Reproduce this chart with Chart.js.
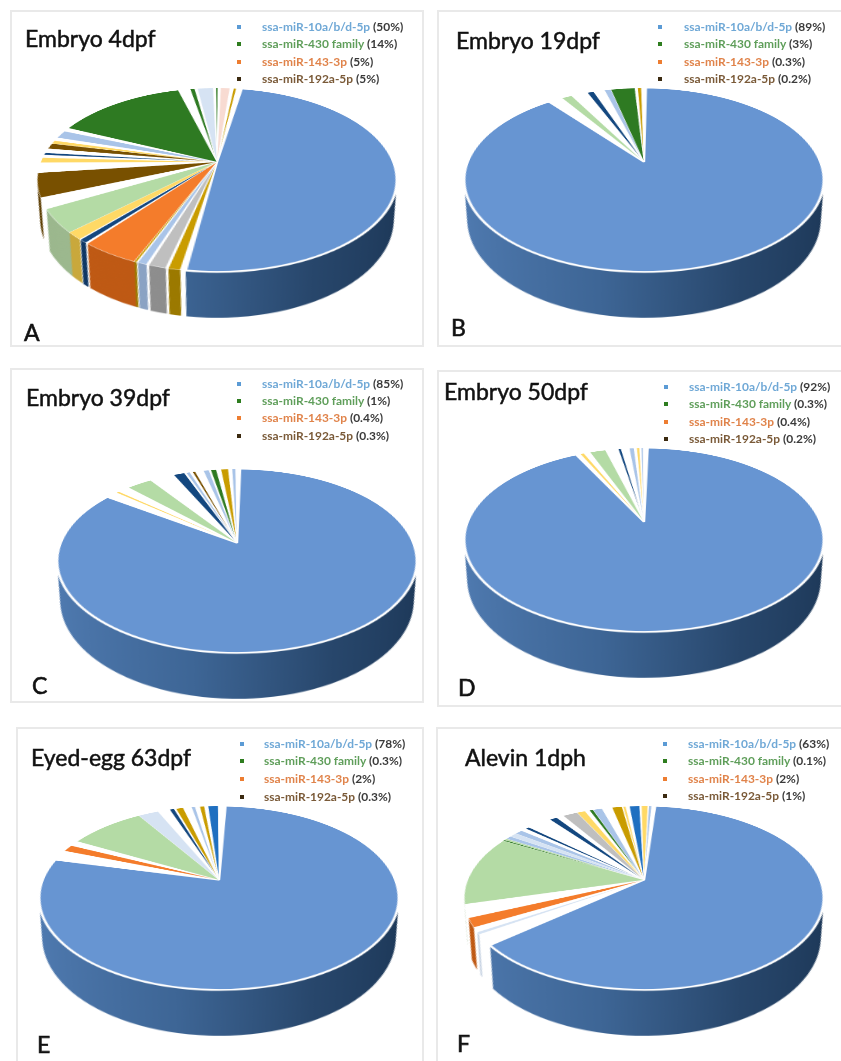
<!DOCTYPE html>
<html>
<head>
<meta charset="utf-8">
<title>miRNA pies</title>
<script src="https://cdn.jsdelivr.net/npm/chart.js@4/dist/chart.umd.min.js"></script>
<style>
  html, body { margin: 0; width: 841px; height: 1061px; overflow: hidden; background: #fff; font-family: Lato, sans-serif; }
  #stage { position: relative; width: 841px; height: 1061px; overflow: hidden; filter: blur(.35px); }
  .frame { position: absolute; box-sizing: border-box; border: 2px solid #e9e9e9; }
  canvas.pie { position: absolute; transform: perspective(780px) rotateX(59.9deg); transform-origin: 50% 50%; }
  .title, .letter, .row, .mark { position: absolute; white-space: nowrap; }
  .title { font-size: 23px; line-height: 28px; color: #111; -webkit-text-stroke: .5px #111; }
  .letter { font-size: 23px; line-height: 26px; color: #111; -webkit-text-stroke: .6px #111; }
  .row { font-size: 11.95px; line-height: 14px; font-weight: 700; color: #3a3a3a; }
  .mark { width: 4px; height: 4px; }
</style>
</head>
<body>
<div id="stage"></div>
<script>
// ── Legend ────────────────────────────────────────────────
const miRNAs = ['ssa-miR-10a/b/d-5p', 'ssa-miR-430 family', 'ssa-miR-143-3p', 'ssa-miR-192a-5p'];
const shareA = ['50%', '14%', '5%', '5%'];
const shareB = ['89%', '3%', '0.3%', '0.2%'];
const shareC = ['85%', '1%', '0.4%', '0.3%'];
const shareD = ['92%', '0.3%', '0.4%', '0.2%'];
const shareE = ['78%', '0.3%', '2%', '0.3%'];
const shareF = ['63%', '0.1%', '2%', '1%'];

// ── Slices, clockwise from the big one (%) ──
const valuesA = [49.6, .4, .9, .2, 1.3, .2, .7, .1, .2, 4.4, .2, .6, .1, 1.3, 4.1, 1.9, 4.2, 1.8, .9, .5, .4, .8, 1, .6, .6, 1.4, .7, 14, 1.3, .5, .3, 1.7, .3, .2, .3, 1, .4, .3, .6];
const kindsA = ['blue', 'white', 'gold', 'white', 'grey', 'white', 'pale', 'white', 'gold', 'orange', 'white', 'navy', 'white', 'butter', 'mint', 'white', 'brown', 'white', 'butter', 'white', 'navy', 'white', 'brown', 'butter', 'white', 'pale', 'white', 'green', 'white', 'green', 'white', 'mist', 'white', 'green', 'white', 'pink', 'white', 'gold', 'white'];

const valuesB = [89, 1.6, 1.1, 1.8, .7, 1.2, .7, 2.6, .3, .4, .5];
const kindsB = ['blue', 'white', 'mint', 'white', 'navy', 'white', 'pale', 'green', 'white', 'gold', 'white'];

const valuesC = [84.4, 1.3, .3, 1.3, 2.7, 2.7, 1.2, .2, .4, .3, .3, .9, .6, .2, .6, .5, .8, .4, .4, .5];
const kindsC = ['blue', 'white', 'butter', 'white', 'mint', 'white', 'navy', 'white', 'pale', 'white', 'brown', 'white', 'pale', 'white', 'green', 'white', 'gold', 'white', 'pale', 'white'];

const valuesD = [92.1, .5, .4, .7, 1.7, 1.4, .3, .9, .5, .3, .3, .2, .2, .5];
const kindsD = ['blue', 'white', 'butter', 'white', 'mint', 'white', 'navy', 'white', 'pale', 'white', 'butter', 'white', 'pale', 'white'];

const valuesE = [78.1, 1.9, 1.2, 1, 8.2, 2.2, 1.3, .5, .2, .8, .9, .4, .5, .5, .4, 1.1, .8];
const kindsE = ['blue', 'white', 'orange', 'white', 'mint', 'mist', 'white', 'navy', 'white', 'gold', 'white', 'pale', 'white', 'gold', 'white', 'royal', 'white'];

const valuesF = [62.8, 1.9, .4, .8, 1.6, 2.3, 12.3, .2, .3, .6, .8, .8, .6, .4, 2.7, .8, .8, 1.6, .9, .5, .4, 1, 1.1, 1.1, .1, .3, .4, 1.1, .2, .7, .1, .3, .4];
const kindsF = ['blue', 'white', 'mist', 'white', 'orange', 'white', 'mint', 'green', 'mint', 'pale', 'mist', 'pale', 'white', 'navy', 'white', 'navy', 'white', 'grey', 'butter', 'white', 'green', 'pale', 'white', 'gold', 'white', 'butter', 'white', 'royal', 'white', 'butter', 'white', 'pale', 'white'];

// ── Colours ───────────────────────────────────────────────
const TOP = {
  blue: '#6795d2', white: '#ffffff', gold: '#c99c00', grey: '#bfbfbf', pale: '#a9c4e8', mist: '#d6e3f3',
  orange: '#f47c2b', navy: '#13477f', royal: '#1f6fc0', butter: '#ffd966', mint: '#b4dba5',
  brown: '#785000', green: '#2e7a22', pink: '#f8dbd2'
};
const SIDE = {
  white: '#ffffff', gold: '#9c7a00', grey: '#8e8e8e', pale: '#8ba3c4', mist: '#c6d2e2',
  orange: '#bf5a15', navy: '#0f3764', royal: '#175a9c', butter: '#c9a83c', mint: '#9cb88e',
  brown: '#5c3e00', green: '#235e1a', pink: '#d8bdb5'
};
const TEXT_COL = ['#6fa8d6', '#5f9e5a', '#e0834a', '#7a5a38'];
const MARK_COL = ['#5b9bd5', '#2e7d1f', '#ed7d31', '#3b2a10'];

// ── Layout of the six panels ──────────────────────────────
const panels = [
  { letter: 'A', title: 'Embryo 4dpf', values: valuesA, kinds: kindsA, share: shareA, rotation: 9.7,
    box: [10, 10, 414, 337], tip: [217, 162], titleAt: [25, 24], letterAt: [24, 319], mark: 239, text: 262, rows: [27, 44, 62, 79] },
  { letter: 'B', title: 'Embryo 19dpf', values: valuesB, kinds: kindsB, share: shareB, rotation: .8,
    box: [437, 10, 420, 337], tip: [644, 162], titleAt: [456, 26], letterAt: [451, 314], mark: 660, text: 684, rows: [27, 44, 62, 79] },
  { letter: 'C', title: 'Embryo 39dpf', values: valuesC, kinds: kindsC, share: shareC, rotation: 1.3,
    box: [10, 368, 414, 335], tip: [237, 543], titleAt: [26, 383], letterAt: [32, 672], mark: 239, text: 262, rows: [384, 401, 418, 436] },
  { letter: 'D', title: 'Embryo 50dpf', values: valuesD, kinds: kindsD, share: shareD, rotation: 1.5,
    box: [437, 370, 420, 337], tip: [644, 522], titleAt: [444, 377], letterAt: [458, 674], mark: 666, text: 689, rows: [387, 404, 422, 439] },
  { letter: 'E', title: 'Eyed-egg 63dpf', values: valuesE, kinds: kindsE, share: shareE, rotation: 2.6,
    box: [16, 727, 408, 350], tip: [219, 880], titleAt: [31, 743], letterAt: [37, 1031], mark: 242, text: 264, rows: [744, 761, 779, 797] },
  { letter: 'F', title: 'Alevin 1dph', values: valuesF, kinds: kindsF, share: shareF, rotation: 4.4,
    box: [436, 727, 420, 350], tip: [644, 880], titleAt: [465, 743], letterAt: [457, 1030], mark: 665, text: 688, rows: [744, 761, 779, 796] }
];

const CANVAS = 474, RADIUS = 177.5;
const stage = document.getElementById('stage');

function addText(cls, text, x, y) {
  const el = document.createElement('div');
  el.className = cls;
  el.textContent = text;
  el.style.left = x + 'px';
  el.style.top = y + 'px';
  stage.appendChild(el);
  return el;
}

// ── Side wall: the chart's own arcs repainted below the top face ──
const WALL_LAYERS = 72, WALL_DROP = 71.5, WALL_SHRINK = .095;
const wallPlugin = {
  id: 'wall',
  beforeDatasetsDraw(chart) {
    const { ctx } = chart;
    const arcs = chart.getDatasetMeta(0).data;
    const kinds = chart.data.datasets[0].kinds;
    const c = arcs[0].x;
    const grad = ctx.createLinearGradient(-RADIUS, 0, RADIUS, 0);
    grad.addColorStop(0, '#507bb1');
    grad.addColorStop(.4, '#3e6696');
    grad.addColorStop(.72, '#28476c');
    grad.addColorStop(1, '#1d3858');
    for (let i = WALL_LAYERS; i > 0; i--) {
      const t = i / WALL_LAYERS, s = 1 - WALL_SHRINK * t;
      ctx.save();
      ctx.translate(c, arcs[0].y + WALL_DROP * t);
      ctx.scale(s, s);
      arcs.forEach((arc, n) => {
        ctx.beginPath();
        ctx.moveTo(0, 0);
        ctx.arc(0, 0, arc.outerRadius, arc.startAngle, arc.endAngle);
        ctx.closePath();
        ctx.fillStyle = kinds[n] === 'blue' ? grad : SIDE[kinds[n]];
        ctx.fill();
      });
      ctx.restore();
    }
  }
};

function makePie(p) {
  const canvas = document.createElement('canvas');
  canvas.className = 'pie';
  canvas.width = CANVAS;
  canvas.height = CANVAS;
  canvas.style.left = (p.tip[0] - CANVAS / 2) + 'px';
  canvas.style.top = (p.tip[1] - CANVAS / 2) + 'px';
  stage.appendChild(canvas);
  return new Chart(canvas, {
    type: 'pie',
    data: {
      labels: p.kinds,
      datasets: [{
        data: p.values,
        kinds: p.kinds,
        backgroundColor: p.kinds.map(k => TOP[k]),
        borderColor: '#ffffff',
        borderWidth: p.kinds.map(k => k === 'blue' ? 2.4 : .5)
      }]
    },
    options: {
      responsive: false,
      animation: false,
      devicePixelRatio: 2,
      events: [],
      rotation: p.rotation,
      layout: { padding: CANVAS / 2 - RADIUS },
      plugins: { legend: { display: false }, tooltip: { enabled: false } }
    },
    plugins: [wallPlugin]
  });
}

// ── Build ─────────────────────────────────────────────────
panels.forEach(p => {
  const f = document.createElement('div');
  f.className = 'frame';
  f.style.cssText = `left:${p.box[0]}px;top:${p.box[1]}px;width:${p.box[2]}px;height:${p.box[3]}px`;
  stage.appendChild(f);
});
panels.forEach(makePie);
panels.forEach(p => {
  addText('title', p.title, p.titleAt[0], p.titleAt[1]);
  addText('letter', p.letter, p.letterAt[0], p.letterAt[1]);
  miRNAs.forEach((name, i) => {
    const row = addText('row', '', p.text, p.rows[i] - 7);
    const s = document.createElement('span');
    s.style.color = TEXT_COL[i];
    s.textContent = name;
    row.appendChild(s);
    row.appendChild(document.createTextNode(` (${p.share[i]})`));
    const m = document.createElement('div');
    m.className = 'mark';
    m.style.cssText = `left:${p.mark - 2}px;top:${p.rows[i] - 2}px;background:${MARK_COL[i]}`;
    stage.appendChild(m);
  });
});
</script>
</body>
</html>
